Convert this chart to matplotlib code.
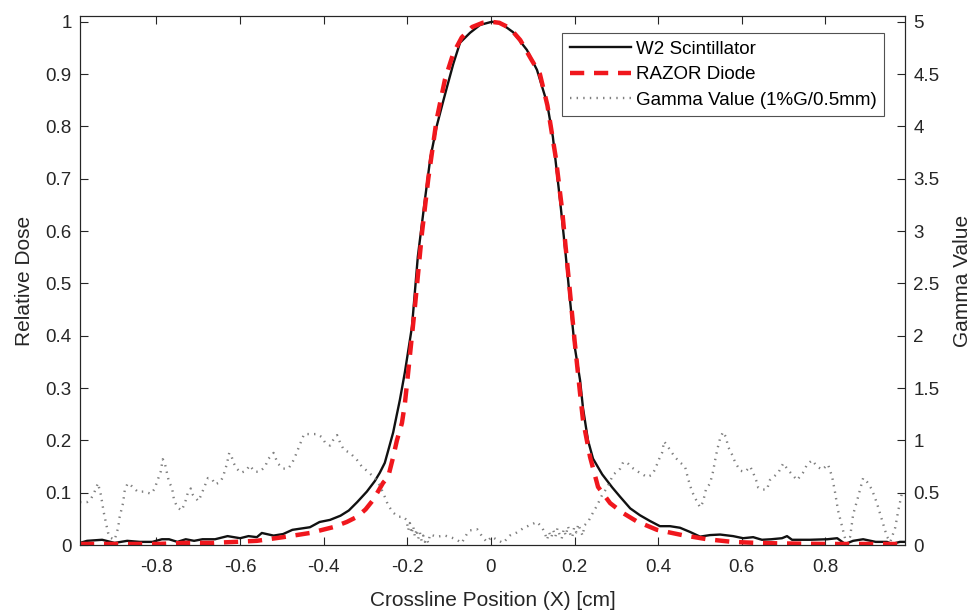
import matplotlib
matplotlib.use("Agg")
import matplotlib.pyplot as plt
import numpy as np

plt.rcParams['font.family'] = ['Liberation Sans', 'DejaVu Sans']
plt.rcParams['axes.unicode_minus'] = False

# W2 Scintillator profile (relative dose)
w2_x = [-0.983, -0.966, -0.93, -0.9, -0.87, -0.84, -0.81, -0.787, -0.77, -0.75, -0.73, -0.71,
        -0.69, -0.66, -0.63, -0.6, -0.58, -0.56, -0.548, -0.52, -0.497, -0.475, -0.433, -0.41,
        -0.385, -0.36, -0.34, -0.32, -0.297, -0.278, -0.266, -0.254, -0.246, -0.234, -0.225,
        -0.218, -0.206, -0.189, -0.175, -0.158, -0.145, -0.13, -0.117, -0.105, -0.09, -0.074,
        -0.05, -0.026, 0.002, 0.022, 0.053, 0.086, 0.11, 0.134, 0.148, 0.165, 0.178, 0.189,
        0.2, 0.213, 0.22, 0.232, 0.244, 0.266, 0.29, 0.309, 0.333, 0.356, 0.38, 0.404, 0.428,
        0.452, 0.476, 0.5, 0.524, 0.548, 0.579, 0.603, 0.627, 0.648, 0.67, 0.696, 0.708,
        0.72, 0.763, 0.804, 0.828, 0.847, 0.866, 0.89, 0.92, 0.947, 0.959, 0.978, 0.99]
w2_y = [0.004, 0.008, 0.01, 0.004, 0.008, 0.006, 0.006, 0.011, 0.011, 0.006, 0.011, 0.008,
        0.011, 0.011, 0.017, 0.013, 0.017, 0.015, 0.023, 0.018, 0.021, 0.029, 0.034, 0.044,
        0.048, 0.056, 0.066, 0.082, 0.102, 0.122, 0.138, 0.157, 0.18, 0.215, 0.25,
        0.277, 0.33, 0.417, 0.551, 0.66, 0.74, 0.8, 0.84, 0.876, 0.92, 0.96,
        0.979, 0.994, 1.0, 0.998, 0.98, 0.946, 0.908, 0.845, 0.78, 0.66, 0.56, 0.468,
        0.38, 0.315, 0.262, 0.2, 0.165, 0.135, 0.11, 0.092, 0.07, 0.057, 0.046, 0.036, 0.036,
        0.033, 0.025, 0.016, 0.019, 0.02, 0.017, 0.013, 0.015, 0.01, 0.011, 0.013, 0.017,
        0.01, 0.01, 0.011, 0.013, 0.002, 0.008, 0.011, 0.006, 0.006, 0.002, 0.006, 0.006]

# RAZOR Diode profile (relative dose)
razor_x = [-0.983, -0.9, -0.8, -0.732, -0.667, -0.612, -0.56, -0.497, -0.433, -0.378, -0.345,
           -0.32, -0.3, -0.282, -0.258, -0.246, -0.234, -0.225, -0.213, -0.206, -0.2, -0.182,
           -0.165, -0.15, -0.13, -0.11, -0.09, -0.07, -0.045, -0.02, 0.0, 0.02, 0.045, 0.07,
           0.095, 0.117, 0.135, 0.155, 0.17, 0.189, 0.2, 0.213, 0.22, 0.237, 0.256, 0.285,
           0.316, 0.349, 0.397, 0.457, 0.517, 0.577, 0.636, 0.7, 0.8, 0.9, 0.99]
razor_y = [0.002, 0.002, 0.002, 0.004, 0.004, 0.006, 0.008, 0.015, 0.023, 0.034, 0.044,
           0.054, 0.068, 0.086, 0.119, 0.13, 0.168, 0.2, 0.233, 0.27, 0.315, 0.455,
           0.597, 0.7, 0.813, 0.89, 0.94, 0.97, 0.99, 0.998, 1.0, 0.998, 0.988, 0.965,
           0.93, 0.9, 0.84, 0.74, 0.641, 0.482, 0.39, 0.29, 0.239, 0.168, 0.111, 0.08,
           0.061, 0.045, 0.029, 0.019, 0.011, 0.006, 0.004, 0.003, 0.002, 0.002, 0.002]

# Gamma value (1%G/0.5mm)
gamma_x = [-0.983, -0.966, -0.957, -0.95, -0.94, -0.933, -0.926, -0.916, -0.91, -0.9, -0.892,
           -0.888, -0.88, -0.876, -0.87, -0.866, -0.856, -0.845, -0.83, -0.813, -0.804, -0.8,
           -0.79, -0.785, -0.78, -0.77, -0.763, -0.758, -0.75, -0.74, -0.732, -0.725, -0.718,
           -0.713, -0.7, -0.694, -0.684, -0.677, -0.667, -0.66, -0.648, -0.641, -0.632,
           -0.626, -0.62, -0.615, -0.608, -0.598, -0.586, -0.577, -0.565, -0.553, -0.54,
           -0.533, -0.52, -0.51, -0.497, -0.485, -0.476, -0.469, -0.457, -0.447, -0.433,
           -0.416, -0.404, -0.397, -0.385, -0.378, -0.368, -0.361, -0.352, -0.337, -0.32,
           -0.309, -0.294, -0.278, -0.266, -0.254, -0.246, -0.234, -0.222, -0.21,
           -0.202, -0.198, -0.194, -0.19, -0.186, -0.182, -0.178, -0.174, -0.17, -0.166,
           -0.162, -0.158, -0.154, -0.15, -0.146, -0.13, -0.11, -0.086, -0.07, -0.057,
           -0.05, -0.033, -0.019, -0.01, 0.002, 0.014, 0.029, 0.045, 0.062, 0.077, 0.093,
           0.11, 0.122, 0.129, 0.134, 0.139, 0.144, 0.149, 0.154, 0.159, 0.164, 0.169,
           0.174, 0.179, 0.184, 0.189, 0.194, 0.199, 0.204, 0.209, 0.214, 0.219, 0.224,
           0.232, 0.244, 0.254, 0.266, 0.278, 0.292, 0.309, 0.316, 0.325, 0.337, 0.352,
           0.373, 0.385, 0.392, 0.402, 0.409, 0.414, 0.423, 0.433, 0.44, 0.452, 0.464,
           0.471, 0.476, 0.481, 0.488, 0.5, 0.507, 0.514, 0.524, 0.531, 0.536, 0.541,
           0.548, 0.555, 0.562, 0.567, 0.577, 0.584, 0.596, 0.608, 0.62, 0.627, 0.634,
           0.639, 0.648, 0.66, 0.667, 0.687, 0.699, 0.71, 0.732, 0.746, 0.756, 0.768,
           0.78, 0.792, 0.806, 0.816, 0.823, 0.83, 0.84, 0.847, 0.859, 0.866, 0.878,
           0.89, 0.9, 0.911, 0.923, 0.935, 0.947, 0.955, 0.967, 0.974, 0.983]
gamma_y = [0.41, 0.41, 0.44, 0.49, 0.59, 0.48, 0.31, 0.12, 0.07, 0.05, 0.16,
           0.27, 0.40, 0.52, 0.58, 0.59, 0.55, 0.51, 0.51, 0.49, 0.54, 0.59,
           0.70, 0.82, 0.78, 0.60, 0.55, 0.43, 0.36, 0.33, 0.40, 0.50, 0.54,
           0.48, 0.42, 0.47, 0.57, 0.64, 0.63, 0.58, 0.60, 0.65, 0.77,
           0.88, 0.84, 0.78, 0.73, 0.69, 0.71, 0.76, 0.70, 0.70, 0.75,
           0.82, 0.88, 0.78, 0.73, 0.73, 0.78, 0.84, 0.96, 1.06, 1.06,
           1.06, 1.03, 0.98, 0.95, 1.0, 1.05, 0.98, 0.91, 0.88, 0.81,
           0.75, 0.70, 0.64, 0.57, 0.46, 0.38, 0.31, 0.27, 0.27,
           0.24, 0.14, 0.21, 0.11, 0.18, 0.08, 0.15, 0.06, 0.12, 0.04,
           0.09, 0.03, 0.06, 0.02, 0.1, 0.08, 0.09, 0.06, 0.02, 0.11,
           0.14, 0.15, 0.07, 0.03, 0.08, 0.05, 0.02, 0.09, 0.12, 0.16, 0.19,
           0.22, 0.17, 0.11, 0.05, 0.12, 0.07, 0.14, 0.08, 0.16, 0.1, 0.06,
           0.15, 0.09, 0.18, 0.11, 0.07, 0.17, 0.12, 0.2, 0.14, 0.09, 0.19,
           0.22, 0.31, 0.38, 0.48, 0.55, 0.67, 0.73, 0.79, 0.79, 0.74, 0.70,
           0.65, 0.67, 0.72, 0.82, 0.88, 0.99, 0.94, 0.88, 0.84, 0.79, 0.75,
           0.64, 0.57, 0.51, 0.45, 0.36, 0.41, 0.53, 0.59, 0.70, 0.81, 0.91,
           1.02, 1.08, 1.03, 0.94, 0.86, 0.79, 0.71, 0.70, 0.75, 0.69, 0.62,
           0.55, 0.53, 0.53, 0.62, 0.69, 0.78, 0.72, 0.62, 0.69, 0.77, 0.81,
           0.75, 0.72, 0.77, 0.65, 0.50, 0.33, 0.17, 0.06, 0.08, 0.29, 0.46,
           0.64, 0.60, 0.53, 0.40, 0.24, 0.08, 0.03, 0.17, 0.33, 0.50]

text_col = '#262626'

fig = plt.figure(figsize=(9.74, 6.11), dpi=100)
ax = fig.add_axes([0.0821, 0.108, 0.8470, 0.8658])
ax2 = ax.twinx()

l1, = ax.plot(w2_x, w2_y, color='#111111', lw=1.7, label='W2 Scintillator')
l2, = ax.plot(razor_x, razor_y, color='#f0171d', lw=3.2, linestyle=(0, (3.2, 2.2)),
              label='RAZOR Diode')
l3, = ax2.plot(gamma_x, gamma_y, color='#7f7f7f', lw=1.7, linestyle=(0, (0.6, 2.2)),
               label='Gamma Value (1%G/0.5mm)')

ax.set_xlim(-0.983, 0.99)
ax.set_ylim(0, 1.011)
ax2.set_ylim(0, 5.055)
ax.set_xticks(np.arange(-0.8, 0.81, 0.2))
ax.set_xticklabels(['-0.8', '-0.6', '-0.4', '-0.2', '0', '0.2', '0.4', '0.6', '0.8'])
ax.set_yticks(np.arange(0, 1.01, 0.1))
ax.set_yticklabels(['0', '0.1', '0.2', '0.3', '0.4', '0.5', '0.6', '0.7', '0.8', '0.9', '1'])
ax2.set_yticks(np.arange(0, 5.01, 0.5))
ax2.set_yticklabels(['0', '0.5', '1', '1.5', '2', '2.5', '3', '3.5', '4', '4.5', '5'])

ax.tick_params(axis='x', direction='in', top=True, length=6, width=0.8, colors=text_col,
               labelsize=13.5, pad=10)
ax.tick_params(axis='y', direction='in', length=6, width=0.8, colors=text_col,
               labelsize=13.5, pad=6)
ax2.tick_params(axis='y', direction='in', length=6, width=0.8, colors=text_col,
                labelsize=13.5, pad=6)
for a in (ax, ax2):
    for s in a.spines.values():
        s.set_color(text_col)
        s.set_linewidth(0.8)

ax.set_xlabel('Crossline Position (X) [cm]', fontsize=15, color=text_col, labelpad=11)
ax.set_ylabel('Relative Dose', fontsize=15, color=text_col, labelpad=8)
ax2.set_ylabel('Gamma Value', fontsize=15, color=text_col, labelpad=10)

leg = ax2.legend(handles=[l1, l2, l3], loc='upper right', bbox_to_anchor=(0.975, 0.968),
                 fontsize=13.5, frameon=True, fancybox=False, handlelength=3.3,
                 borderpad=0.4, labelspacing=0.45, handletextpad=0.25, borderaxespad=0)
leg.get_frame().set_edgecolor(text_col)
leg.get_frame().set_linewidth(0.8)

plt.savefig('out.png', dpi=100)
